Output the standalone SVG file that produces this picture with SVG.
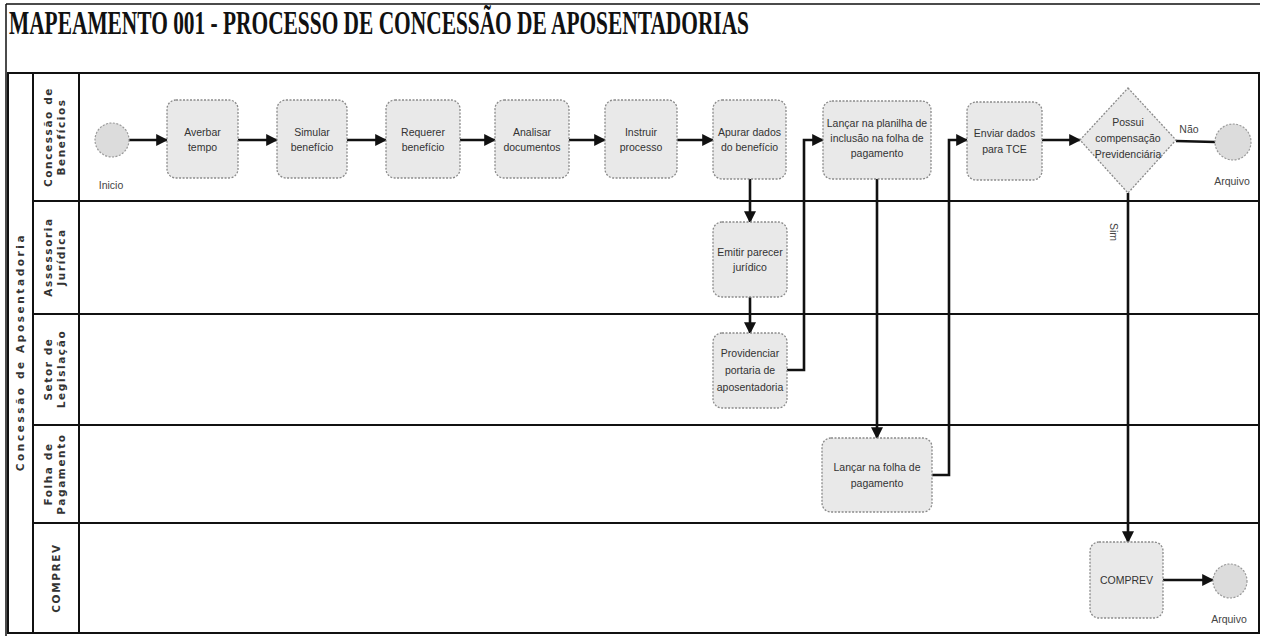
<svg xmlns="http://www.w3.org/2000/svg" width="1263" height="639" viewBox="0 0 1263 639">
<style>
.frame{fill:none;stroke:#111;stroke-width:1.5}
.lane{fill:none;stroke:#111;stroke-width:2}
.task{fill:#e9e9e9;stroke:#8a8a8a;stroke-width:1.3;stroke-dasharray:2 1.5}
.ev{fill:#dcdcdc;stroke:#9a9a9a;stroke-width:1.2;stroke-dasharray:2 1.5}
.t{font-family:"Liberation Sans",Arial,sans-serif;font-size:10.5px;fill:#333;text-anchor:middle}
.lbl{font-family:"Liberation Sans",Arial,sans-serif;font-size:10.5px;fill:#444;text-anchor:middle}
.ll{font-family:"DejaVu Sans",Arial,sans-serif;font-size:10.5px;font-weight:bold;fill:#333;text-anchor:middle;letter-spacing:1.6px}
.c{fill:none;stroke:#111;stroke-width:2.6}
.ca{fill:none;stroke:#111;stroke-width:2.6;marker-end:url(#ah)}
</style>
<defs>
<marker id="ah" viewBox="0 0 10 10" refX="9" refY="5" markerWidth="12" markerHeight="12" markerUnits="userSpaceOnUse" orient="auto">
<path d="M0,0 L10,5 L0,10 z" fill="#111"/>
</marker>
</defs>
<rect width="1263" height="639" fill="#fff"/>
<g id="title">
<path class="frame" d="M6,4 H1260 M6,4 V636"/>
<text x="9" y="34" font-family="'Liberation Serif',serif" font-weight="bold" font-size="33" textLength="740" lengthAdjust="spacingAndGlyphs" fill="#111">MAPEAMENTO 001 - PROCESSO DE CONCESSÃO DE APOSENTADORIAS</text>
</g>
<g id="pool">
<rect class="lane" x="8" y="73" width="1251" height="560"/>
<line class="lane" x1="33" y1="73" x2="33" y2="633"/>
<line class="lane" x1="79" y1="73" x2="79" y2="633"/>
<line class="lane" x1="33" y1="201" x2="1259" y2="201"/>
<line class="lane" x1="33" y1="314" x2="1259" y2="314"/>
<line class="lane" x1="33" y1="425" x2="1259" y2="425"/>
<line class="lane" x1="33" y1="523" x2="1259" y2="523"/>
<text class="ll" transform="translate(24,352) rotate(-90)" style="letter-spacing:2.6px">Concessão de Aposentadoria</text>
<text class="ll" transform="translate(52,137) rotate(-90)">Concessão de</text>
<text class="ll" transform="translate(65,137) rotate(-90)">Benefícios</text>
<text class="ll" transform="translate(52,257) rotate(-90)">Assessoria</text>
<text class="ll" transform="translate(65,257) rotate(-90)">Jurídica</text>
<text class="ll" transform="translate(52,369) rotate(-90)">Setor de</text>
<text class="ll" transform="translate(65,369) rotate(-90)">Legislação</text>
<text class="ll" transform="translate(52,474) rotate(-90)">Folha de</text>
<text class="ll" transform="translate(65,474) rotate(-90)">Pagamento</text>
<text class="ll" transform="translate(60,578) rotate(-90)">COMPREV</text>
</g>
<g id="connectors">
<line class="ca" x1="129" y1="140" x2="167" y2="140"/>
<line class="ca" x1="238" y1="140" x2="277" y2="140"/>
<line class="ca" x1="347" y1="140" x2="386" y2="140"/>
<line class="ca" x1="460" y1="140" x2="495" y2="140"/>
<line class="ca" x1="569" y1="140" x2="605" y2="140"/>
<line class="ca" x1="677" y1="140" x2="713" y2="140"/>
<line class="ca" x1="750" y1="179" x2="750" y2="222"/>
<line class="ca" x1="750" y1="297" x2="750" y2="333"/>
<polyline class="ca" points="787,370 804,370 804,140 823,140"/>
<line class="ca" x1="877" y1="179" x2="877" y2="438"/>
<polyline class="ca" points="932,475 949,475 949,140 967,140"/>
<line class="ca" x1="1042" y1="140" x2="1080" y2="140"/>
<line class="c" x1="1176" y1="141" x2="1215" y2="142"/>
<line class="ca" x1="1128" y1="193" x2="1128" y2="542"/>
<line class="ca" x1="1163" y1="580" x2="1213" y2="580"/>
<text class="lbl" x="1189" y="133" font-size="10">Não</text>
<text class="lbl" transform="translate(1110,232) rotate(90)" font-size="9" fill="#999">Sim</text>
</g>
<g id="inicio">
<circle class="ev" cx="112" cy="140" r="17"/>
<text class="lbl" x="111" y="189">Inicio</text>
</g>
<g id="averbar">
<rect class="task" x="167" y="100" width="71" height="78" rx="9"/>
<text class="t" x="202.5" y="136">Averbar</text>
<text class="t" x="202.5" y="151">tempo</text>
</g>
<g id="simular">
<rect class="task" x="277" y="100" width="70" height="78" rx="9"/>
<text class="t" x="312" y="136">Simular</text>
<text class="t" x="312" y="151">benefício</text>
</g>
<g id="requerer">
<rect class="task" x="386" y="100" width="74" height="78" rx="9"/>
<text class="t" x="423" y="136">Requerer</text>
<text class="t" x="423" y="151">benefício</text>
</g>
<g id="analisar">
<rect class="task" x="495" y="100" width="74" height="78" rx="9"/>
<text class="t" x="532" y="136">Analisar</text>
<text class="t" x="532" y="151">documentos</text>
</g>
<g id="instruir">
<rect class="task" x="605" y="100" width="72" height="78" rx="9"/>
<text class="t" x="641" y="136">Instruir</text>
<text class="t" x="641" y="151">processo</text>
</g>
<g id="apurar">
<rect class="task" x="713" y="100" width="73" height="79" rx="9"/>
<text class="t" x="749.5" y="136">Apurar dados</text>
<text class="t" x="749.5" y="151">do benefício</text>
</g>
<g id="lancar-planilha">
<rect class="task" x="823" y="101" width="108" height="78" rx="9"/>
<text class="t" x="877" y="127">Lançar na planilha de</text>
<text class="t" x="877" y="142">inclusão na folha de</text>
<text class="t" x="877" y="157">pagamento</text>
</g>
<g id="enviar">
<rect class="task" x="967" y="102" width="75" height="78" rx="9"/>
<text class="t" x="1004.5" y="137">Enviar dados</text>
<text class="t" x="1004.5" y="153">para TCE</text>
</g>
<g id="possui">
<polygon class="task" points="1128,88 1176,140 1128,193 1080,140"/>
<text class="t" x="1128" y="126">Possui</text>
<text class="t" x="1128" y="142">compensação</text>
<text class="t" x="1128" y="158">Previdenciária</text>
</g>
<g id="arquivo1">
<circle class="ev" cx="1233" cy="142" r="18"/>
<text class="lbl" x="1232" y="185" fill="#777">Arquivo</text>
</g>
<g id="emitir">
<rect class="task" x="713" y="222" width="74" height="75" rx="9"/>
<text class="t" x="750" y="256">Emitir parecer</text>
<text class="t" x="750" y="271">jurídico</text>
</g>
<g id="providenciar">
<rect class="task" x="713" y="333" width="74" height="75" rx="9"/>
<text class="t" x="750" y="357">Providenciar</text>
<text class="t" x="750" y="374">portaria de</text>
<text class="t" x="750" y="391">aposentadoria</text>
</g>
<g id="lancar-folha">
<rect class="task" x="822" y="438" width="110" height="74" rx="9"/>
<text class="t" x="877" y="471">Lançar na folha de</text>
<text class="t" x="877" y="487">pagamento</text>
</g>
<g id="comprev">
<rect class="task" x="1090" y="542" width="73" height="76" rx="9"/>
<text class="t" x="1126.5" y="584">COMPREV</text>
</g>
<g id="arquivo2">
<circle class="ev" cx="1230" cy="581" r="17"/>
<text class="lbl" x="1229" y="623" fill="#777">Arquivo</text>
</g>
</svg>
